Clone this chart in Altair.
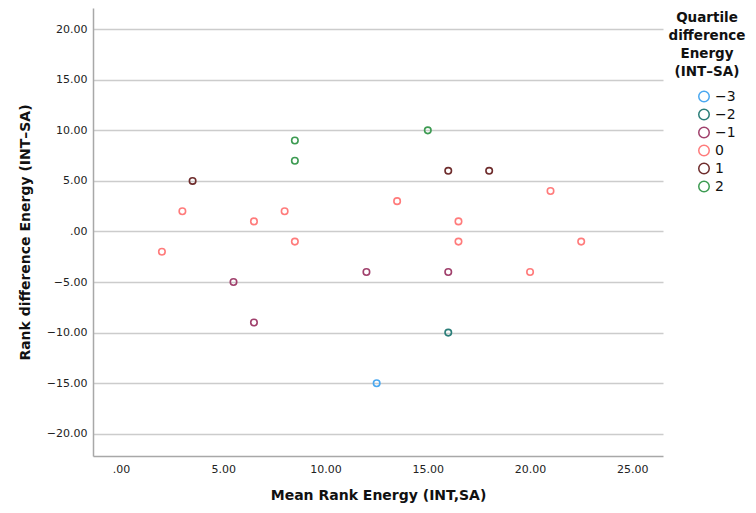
import altair as alt
import pandas as pd

mean_rank = [2, 3, 3.5, 5.5, 6.5, 6.5, 8, 8.5, 8.5, 8.5, 12, 12.5, 13.5, 15, 16, 16, 16, 16.5, 16.5, 18, 20, 21, 22.5]
rank_diff = [-2, 2, 5, -5, 1, -9, 2, 9, 7, -1, -4, -15, 3, 10, 6, -4, -10, 1, -1, 6, -4, 4, -1]
quartile = ["0", "0", "1", "\u22121", "0", "\u22121", "0", "2", "2", "0", "\u22121", "\u22123", "0", "2", "1", "\u22121", "\u22122", "0", "0", "1", "0", "0", "0"]

q_domain = ["\u22123", "\u22122", "\u22121", "0", "1", "2"]
q_colors = ["#4aa8f0", "#2a7d78", "#a0406c", "#ff7b7b", "#6e2c2c", "#3d9b52"]

df = pd.DataFrame({"x": mean_rank, "y": rank_diff, "q": quartile})

font = "DejaVu Sans"

chart = alt.Chart(df).mark_point(shape="circle", filled=False, size=42, strokeWidth=1.6, opacity=1).encode(
    x=alt.X("x:Q", title="Mean Rank Energy (INT,SA)",
            scale=alt.Scale(domain=[-1.37, 26.5], nice=False, zero=False),
            axis=alt.Axis(values=[0, 5, 10, 15, 20, 25], grid=False, ticks=False,
                          labelExpr="datum.value == 0 ? '.00' : format(datum.value, '.2f')",
                          labelPadding=7, titlePadding=14)),
    y=alt.Y("y:Q", title="Rank difference Energy (INT\u2013SA)",
            scale=alt.Scale(domain=[-22.2, 22.1], nice=False, zero=False),
            axis=alt.Axis(values=[-20, -15, -10, -5, 0, 5, 10, 15, 20], grid=True, ticks=False,
                          labelExpr="datum.value == 0 ? '.00' : format(datum.value, '.2f')",
                          labelPadding=6, titlePadding=14)),
    color=alt.Color("q:N", scale=alt.Scale(domain=q_domain, range=q_colors),
                    legend=alt.Legend(title=["Quartile", "difference", "Energy", "(INT\u2013SA)"],
                                      symbolType="circle", symbolSize=110, symbolStrokeWidth=1.5,
                                      symbolFillColor="white", symbolOffset=18,
                                      labelFontSize=14, labelFont=font, labelColor="#111",
                                      titleFont=font, titleFontSize=13.5, titleFontWeight="bold",
                                      titleColor="#111",
                                      titleAlign="center", titleAnchor="middle", titleLineHeight=18,
                                      rowPadding=0, offset=3, padding=3, titlePadding=11)),
).properties(
    width=570, height=448,
    autosize=alt.AutoSizeParams(type="none"),
    padding={"top": 0, "left": 85, "right": 85, "bottom": 49},
).configure_view(stroke=None).configure_axis(
    labelFont=font, labelFontSize=11, labelColor="#222",
    titleFont=font, titleFontSize=14, titleFontWeight="bold", titleColor="#111",
    domainColor="#a8a8a8", domainWidth=1.5, gridColor="#cccccc", gridWidth=1.5,
)

chart.save("out.html", embed_options={"renderer": "svg", "actions": False})
